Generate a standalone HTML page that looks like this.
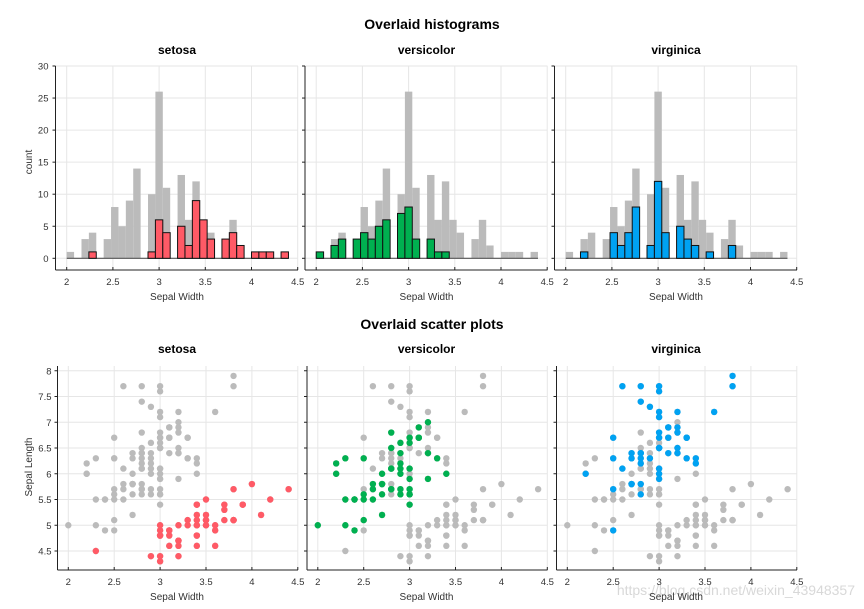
<!DOCTYPE html>
<html><head><meta charset="utf-8"><style>
body{margin:0;background:#fff;}
svg{display:block;font-family:"Liberation Sans",Arial,sans-serif;}
</style></head><body>
<svg id="chart" width="864" height="609" viewBox="0 0 864 609">
<text x="432" y="29" text-anchor="middle" font-size="14" font-weight="bold">Overlaid histograms</text>
<text x="432" y="329" text-anchor="middle" font-size="14" font-weight="bold">Overlaid scatter plots</text>
<text x="32" y="162" text-anchor="middle" font-size="10" fill="#333" transform="rotate(-90 32 162)">count</text>
<text x="32" y="467" text-anchor="middle" font-size="10" fill="#333" transform="rotate(-90 32 467)">Sepal Length</text>
<text x="855" y="595" text-anchor="end" font-size="14" fill="#d8d8d8">https://blog.csdn.net/weixin_43948357</text>
</svg>
<script>
const species = ['setosa','versicolor','virginica'];
const colors = ['#ff5a66','#00b050','#00a2f2'];
const setosaW = [3.5,3.0,3.2,3.1,3.6,3.9,3.4,3.4,2.9,3.1,3.7,3.4,3.0,3.0,4.0,4.4,3.9,3.5,3.8,3.8,3.4,3.7,3.6,3.3,3.4,3.0,3.4,3.5,3.4,3.2,3.1,3.4,4.1,4.2,3.1,3.2,3.5,3.6,3.0,3.4,3.5,2.3,3.2,3.5,3.8,3.0,3.8,3.2,3.7,3.3];
const setosaL = [5.1,4.9,4.7,4.6,5.0,5.4,4.6,5.0,4.4,4.9,5.4,4.8,4.8,4.3,5.8,5.7,5.4,5.1,5.7,5.1,5.4,5.1,4.6,5.1,4.8,5.0,5.0,5.2,5.2,4.7,4.8,5.4,5.2,5.5,4.9,5.0,5.5,4.9,4.4,5.1,5.0,4.5,4.4,5.0,5.1,4.8,5.1,4.6,5.3,5.0];
const versiW = [3.2,3.2,3.1,2.3,2.8,2.8,3.3,2.4,2.9,2.7,2.0,3.0,2.2,2.9,2.9,3.1,3.0,2.7,2.2,2.5,3.2,2.8,2.5,2.8,2.9,3.0,2.8,3.0,2.9,2.6,2.4,2.4,2.7,2.7,3.0,3.4,3.1,2.3,3.0,2.5,2.6,3.0,2.6,2.3,2.7,3.0,2.9,2.9,2.5,2.8];
const versiL = [7.0,6.4,6.9,5.5,6.5,5.7,6.3,4.9,6.6,5.2,5.0,5.9,6.0,6.1,5.6,6.7,5.6,5.8,6.2,5.6,5.9,6.1,6.3,6.1,6.4,6.6,6.8,6.7,6.0,5.7,5.5,5.5,5.8,6.0,5.4,6.0,6.7,6.3,5.6,5.5,5.5,6.1,5.8,5.0,5.6,5.7,5.7,6.2,5.1,5.7];
const virgW = [3.3,2.7,3.0,2.9,3.0,3.0,2.5,2.9,2.5,3.6,3.2,2.7,3.0,2.5,2.8,3.2,3.0,3.8,2.6,2.2,3.2,2.8,2.8,2.7,3.3,3.2,2.8,3.0,2.8,3.0,2.8,3.8,2.8,2.8,2.6,3.0,3.4,3.1,3.0,3.1,3.1,3.1,2.7,3.2,3.3,3.0,2.5,3.0,3.4,3.0];
const virgL = [6.3,5.8,7.1,6.3,6.5,7.6,4.9,7.3,6.7,7.2,6.5,6.4,6.8,5.7,5.8,6.4,6.5,7.7,7.7,6.0,6.9,5.6,7.7,6.3,6.7,7.2,6.2,6.1,6.4,7.2,7.4,7.9,6.4,6.3,6.1,7.7,6.3,6.4,6.0,6.9,6.7,6.9,5.8,6.8,6.7,6.7,6.3,6.5,6.2,5.9];
const binEdges = [2,2.08,2.16,2.24,2.32,2.4,2.48,2.56,2.64,2.72,2.8001,2.88,2.96,3.04,3.12,3.2,3.28,3.36,3.44,3.52,3.6001,3.68,3.76,3.84,3.92,4.0,4.08,4.16,4.24,4.32,4.4001];
const histYTicks = [0,5,10,15,20,25,30];
const scatYTicks = [4.5,5,5.5,6,6.5,7,7.5,8];
const xTicks = [2,2.5,3,3.5,4,4.5];
const xTickLabels = ['2','2.5','3','3.5','4','4.5'];

const W = [setosaW, versiW, virgW], L = [setosaL, versiL, virgL];
const allW = [].concat(setosaW, versiW, virgW), allL = [].concat(setosaL, versiL, virgL);
const NS = 'http://www.w3.org/2000/svg';
const svg = document.getElementById('chart');
const offs = [0, 249.5, 499];
function mk(tag, attrs, parent){const e=document.createElementNS(NS,tag);for(const k in attrs)e.setAttribute(k,attrs[k]);(parent||svg).appendChild(e);return e;}
function counts(vals){const c=new Array(binEdges.length-1).fill(0);vals.forEach(v=>{for(let i=0;i<c.length;i++){if(v>=binEdges[i]&&(v<binEdges[i+1]||i===c.length-1)){c[i]++;break;}}});return c;}
const grayCounts = counts(allW);

species.forEach((sp,p)=>{
  const off = offs[p];
  // ---------- histogram ----------
  const hx = v => 66.7 + off + (v-2)*92.4;
  const hy = c => 258.3 - c*6.41;
  const g = mk('g',{});
  
  
  const L0 = 55.5+off, R0 = 298+off, T0 = 66, B0 = 270;
  xTicks.forEach(t=>{const l=mk('line',{x1:hx(t),x2:hx(t),y1:T0,y2:B0,stroke:'#e6e6e6','stroke-width':1},g);
    
    });
  histYTicks.forEach(t=>{const l=mk('line',{x1:L0,x2:R0,y1:hy(t),y2:hy(t),stroke:'#e6e6e6','stroke-width':1},g);
    
    });
  // gray all-species histogram
  grayCounts.forEach((c,i)=>{if(!c)return;const a=binEdges[i],b=binEdges[i+1];
    const r=mk('rect',{x:hx(a),y:hy(c),width:hx(b)-hx(a),height:hy(0)-hy(c),fill:'#bbbbbb'},g);
    
    });
  mk('line',{x1:hx(binEdges[0]),x2:hx(binEdges[binEdges.length-1]),y1:hy(0),y2:hy(0),stroke:'#555','stroke-width':1.2},g);
  const sc = counts(W[p]);
  sc.forEach((c,i)=>{if(!c)return;const a=binEdges[i],b=binEdges[i+1];
    const r=mk('rect',{x:hx(a),y:hy(c),width:hx(b)-hx(a),height:hy(0)-hy(c),fill:colors[p],stroke:'#111','stroke-width':1},g);
    
    });
  mk('line',{x1:L0,x2:L0,y1:T0,y2:B0,stroke:'#222','stroke-width':1},g);
  mk('line',{x1:L0,x2:R0,y1:B0,y2:B0,stroke:'#222','stroke-width':1},g);
  histYTicks.forEach(t=>{mk('line',{x1:L0-3,x2:L0,y1:hy(t),y2:hy(t),stroke:'#222'},g);
    if(p===0){const tx=mk('text',{x:L0-7,y:hy(t)+3.5,'text-anchor':'end','font-size':9.5,fill:'#333'},g);tx.textContent=t;
      
      }});
  xTicks.forEach((t,i)=>{mk('line',{x1:hx(t),x2:hx(t),y1:B0,y2:B0-3,stroke:'#222'},g);
    const tx=mk('text',{x:hx(t),y:B0+15,'text-anchor':'middle','font-size':9.5,fill:'#333'},g);tx.textContent=xTickLabels[i];
    
    });
  let t1=mk('text',{x:177+off,y:300,'text-anchor':'middle','font-size':10,fill:'#333'},g);t1.textContent='Sepal Width';
  
  
  let t2=mk('text',{x:177+off,y:54,'text-anchor':'middle','font-size':12,'font-weight':'bold'},g);t2.textContent=sp;
  
  

  // ---------- scatter ----------
  const sx = v => 68.3 + off + (v-2)*91.8;
  const sy = v => 551 - (v-4.5)*51.5;
  const g2 = mk('g',{});
  
  
  const L1 = 57.5+off, R1 = 298+off, T1 = 366, B1 = 570;
  xTicks.forEach(t=>{const l=mk('line',{x1:sx(t),x2:sx(t),y1:T1,y2:B1,stroke:'#e6e6e6'},g2);
    
    });
  scatYTicks.forEach(t=>{const l=mk('line',{x1:L1,x2:R1,y1:sy(t),y2:sy(t),stroke:'#e6e6e6'},g2);
    
    });
  allW.forEach((w,i)=>{const c=mk('circle',{cx:sx(w),cy:sy(allL[i]),r:3.2,fill:'#bbbbbb'},g2);
    
    });
  W[p].forEach((w,i)=>{const c=mk('circle',{cx:sx(w),cy:sy(L[p][i]),r:3.2,fill:colors[p]},g2);
    
    });
  mk('line',{x1:L1,x2:L1,y1:T1,y2:B1,stroke:'#222'},g2);
  mk('line',{x1:L1,x2:R1,y1:B1,y2:B1,stroke:'#222'},g2);
  scatYTicks.forEach(t=>{mk('line',{x1:L1-3,x2:L1,y1:sy(t),y2:sy(t),stroke:'#222'},g2);
    if(p===0){const tx=mk('text',{x:L1-6,y:sy(t)+3.5,'text-anchor':'end','font-size':9.5,fill:'#333'},g2);tx.textContent=t;
      
      }});
  xTicks.forEach((t,i)=>{mk('line',{x1:sx(t),x2:sx(t),y1:B1,y2:B1-3,stroke:'#222'},g2);
    const tx=mk('text',{x:sx(t),y:B1+15,'text-anchor':'middle','font-size':9.5,fill:'#333'},g2);tx.textContent=xTickLabels[i];
    
    });
  let t3=mk('text',{x:177+off,y:600,'text-anchor':'middle','font-size':10,fill:'#333'},g2);t3.textContent='Sepal Width';
  
  
  let t4=mk('text',{x:177+off,y:353,'text-anchor':'middle','font-size':12,'font-weight':'bold'},g2);t4.textContent=sp;
  
  
});
</script>
</body></html>
